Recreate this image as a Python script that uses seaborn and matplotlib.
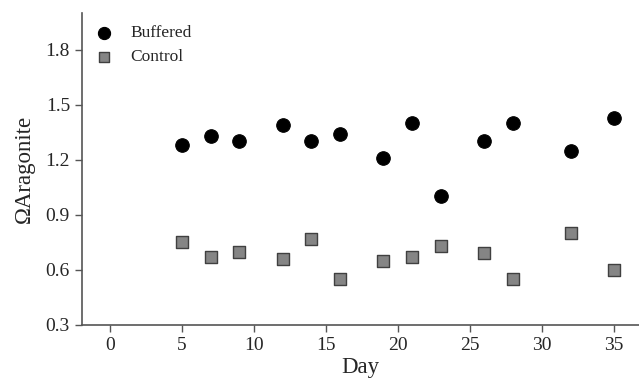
import pandas as pd
import numpy as np
import seaborn as sns
import matplotlib.pyplot as plt

# values
days = [5, 7, 9, 12, 14, 16, 19, 21, 23, 26, 28, 32, 35]
buffered = [1.28, 1.33, 1.30, 1.39, 1.30, 1.34, 1.21, 1.40, 1.00, 1.30, 1.40, 1.25, 1.43]
control = [0.75, 0.67, 0.70, 0.66, 0.77, 0.55, 0.65, 0.67, 0.73, 0.69, 0.55, 0.80, 0.60]
x_ticks = [0, 5, 10, 15, 20, 25, 30, 35]
y_ticks = [0.3, 0.6, 0.9, 1.2, 1.5, 1.8]

df = pd.DataFrame({
    'Day': days * 2,
    'Omega': buffered + control,
    'Treatment': ['Buffered'] * len(days) + ['Control'] * len(days),
})

sns.set_style('ticks')
plt.rcParams['font.family'] = ['Liberation Serif', 'DejaVu Serif']

fig = plt.figure(figsize=(6.39, 3.92), dpi=100)
ax = fig.add_axes([0.128, 0.171, 0.872, 0.796])

sns.scatterplot(data=df[df.Treatment == 'Buffered'], x='Day', y='Omega', ax=ax,
                marker='o', s=95, color='black', edgecolor='black', label='Buffered')
sns.scatterplot(data=df[df.Treatment == 'Control'], x='Day', y='Omega', ax=ax,
                marker='s', s=70, color='#858585', edgecolor='#404040', linewidth=1.0,
                label='Control')

ax.set_xlim(-1.95, 36.75)
ax.set_ylim(0.3, 2.0)
ax.set_xticks(x_ticks)
ax.set_yticks(y_ticks)
ax.set_yticklabels([f'{v:.1f}' for v in y_ticks])
ax.tick_params(labelsize=14, direction='out', length=5, width=1, color='#555555')
for s in ['left', 'bottom']:
    ax.spines[s].set_color('#555555')
    ax.spines[s].set_linewidth(1.2)
sns.despine(ax=ax)

ax.set_xlabel('Day', fontsize=16.5, labelpad=2)
ax.set_ylabel('\u03a9Aragonite', fontsize=16.5, labelpad=8)

ax.legend(loc='upper left', bbox_to_anchor=(0.0, 0.978), frameon=False, fontsize=12.5,
          handletextpad=0.5, borderaxespad=0.1, borderpad=0.2, labelspacing=0.45,
          markerscale=0.9)

plt.savefig('out.png', dpi=100)
plt.close()
